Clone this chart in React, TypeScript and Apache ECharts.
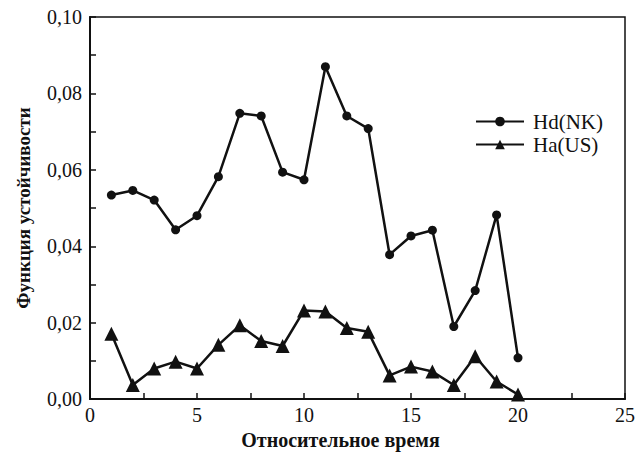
import React, { useEffect, useRef } from "react";
import * as echarts from "echarts";

const xValues = [1, 2, 3, 4, 5, 6, 7, 8, 9, 10, 11, 12, 13, 14, 15, 16, 17, 18, 19, 20];
const hdNK = [0.0534, 0.0546, 0.0521, 0.0443, 0.048, 0.0582, 0.0748, 0.0741, 0.0594, 0.0574, 0.087, 0.0741, 0.0708, 0.0378, 0.0427, 0.0442, 0.019, 0.0284, 0.0482, 0.0108];
const haUS = [0.0171, 0.0037, 0.008, 0.0098, 0.008, 0.0142, 0.0193, 0.0152, 0.0139, 0.0232, 0.0229, 0.0186, 0.0176, 0.0062, 0.0085, 0.0072, 0.0037, 0.0112, 0.0046, 0.0012];
const seriesNames = ["Hd(NK)", "Ha(US)"];
const xTitle = "Относительное время";
const yTitle = "Функция устойчивости";

const FONT = "Liberation Serif";

export default function App() {
  const ref = useRef<HTMLDivElement>(null);
  useEffect(() => {
    if (!ref.current) return;
    const chart = echarts.init(ref.current, undefined, { renderer: "svg" });
    const pair = (ys: number[]) => xValues.map((x, i) => [x, ys[i]]);
    chart.setOption({
      animation: false,
      backgroundColor: "#fff",
      textStyle: { fontFamily: FONT },
      grid: {
        left: 90,
        right: 8,
        top: 17,
        bottom: 52,
        show: true,
        borderColor: "#111",
        borderWidth: 1.5,
        containLabel: false,
      },
      legend: {
        orient: "vertical",
        left: 470,
        top: 106,
        itemWidth: 48,
        itemHeight: 12,
        itemGap: 2,
        data: seriesNames,
        textStyle: { fontFamily: FONT, fontSize: 21, lineHeight: 19, color: "#111", padding: [0, 0, 0, 4] },
      },
      xAxis: {
        type: "value",
        min: 0,
        max: 25,
        interval: 5,
        name: xTitle,
        nameLocation: "middle",
        nameGap: 26,
        nameTextStyle: {
          fontFamily: FONT,
          fontSize: 20,
          fontWeight: "bold",
          color: "#111",
          padding: [0, 34, 0, 0],
        },
        axisLine: { show: true, lineStyle: { color: "#111", width: 2 } },
        axisTick: { show: true, inside: true, length: 6, lineStyle: { color: "#111", width: 1.5 } },
        minorTick: { show: true, splitNumber: 2, length: 6, lineStyle: { color: "#111", width: 1.5 } },
        splitLine: { show: false },
        axisLabel: { fontFamily: FONT, fontSize: 20, color: "#111", margin: 6 },
      },
      yAxis: {
        type: "value",
        min: 0,
        max: 0.1,
        interval: 0.02,
        name: yTitle,
        nameLocation: "middle",
        nameGap: 57,
        nameTextStyle: { fontFamily: FONT, fontSize: 19, fontWeight: "bold", color: "#111" },
        axisLine: { show: true, lineStyle: { color: "#111", width: 2 } },
        axisTick: { show: true, inside: true, length: 6, lineStyle: { color: "#111", width: 1.5 } },
        minorTick: { show: true, splitNumber: 2, length: 6, lineStyle: { color: "#111", width: 1.5 } },
        splitLine: { show: false },
        axisLabel: {
          fontFamily: FONT,
          fontSize: 20,
          color: "#111",
          margin: 8,
          formatter: (v: number) => v.toFixed(2).replace(".", ","),
        },
      },
      series: [
        {
          name: seriesNames[0],
          type: "line",
          data: pair(hdNK),
          symbol: "circle",
          symbolSize: 9,
          lineStyle: { color: "#111", width: 2.5 },
          itemStyle: { color: "#111" },
        },
        {
          name: seriesNames[1],
          type: "line",
          data: pair(haUS),
          symbol: "triangle",
          symbolSize: 14,
          lineStyle: { color: "#111", width: 2.5 },
          itemStyle: { color: "#111" },
        },
      ],
    });
    return () => chart.dispose();
  }, []);
  return <div ref={ref} style={{ width: 638, height: 455, position: "fixed", left: 0, top: 0 }} />;
}
